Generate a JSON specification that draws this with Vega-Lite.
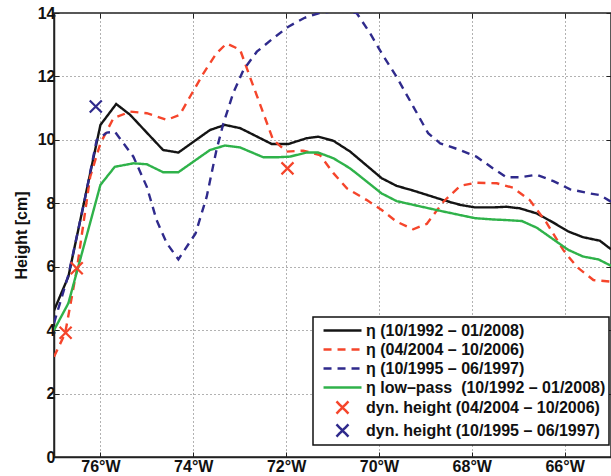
{
  "$schema": "https://vega.github.io/schema/vega-lite/v6.json",
  "width": 557,
  "height": 444,
  "autosize": {"type": "none"},
  "padding": {"left": 54, "top": 13, "right": 0, "bottom": 19},
  "background": "white",
  "resolve": {"axis": {"x": "independent", "y": "independent"}},
  "datasets": {
    "lines": [
      {"s": "A", "lon": -77.0, "h": 4.62}, {"s": "A", "lon": -76.69, "h": 5.69}, {"s": "A", "lon": -76.0, "h": 10.47},
      {"s": "A", "lon": -75.66, "h": 11.13}, {"s": "A", "lon": -75.36, "h": 10.79}, {"s": "A", "lon": -74.65, "h": 9.68},
      {"s": "A", "lon": -74.32, "h": 9.6}, {"s": "A", "lon": -73.64, "h": 10.31}, {"s": "A", "lon": -73.32, "h": 10.47},
      {"s": "A", "lon": -72.99, "h": 10.37}, {"s": "A", "lon": -72.31, "h": 9.87}, {"s": "A", "lon": -71.95, "h": 9.87},
      {"s": "A", "lon": -71.56, "h": 10.05}, {"s": "A", "lon": -71.31, "h": 10.1}, {"s": "A", "lon": -70.98, "h": 9.97},
      {"s": "A", "lon": -70.62, "h": 9.63}, {"s": "A", "lon": -69.94, "h": 8.79}, {"s": "A", "lon": -69.62, "h": 8.55},
      {"s": "A", "lon": -69.26, "h": 8.4}, {"s": "A", "lon": -68.61, "h": 8.1}, {"s": "A", "lon": -68.25, "h": 7.95},
      {"s": "A", "lon": -67.93, "h": 7.87}, {"s": "A", "lon": -67.54, "h": 7.87}, {"s": "A", "lon": -67.25, "h": 7.89},
      {"s": "A", "lon": -66.96, "h": 7.84}, {"s": "A", "lon": -66.6, "h": 7.68}, {"s": "A", "lon": -66.24, "h": 7.39},
      {"s": "A", "lon": -65.92, "h": 7.11}, {"s": "A", "lon": -65.6, "h": 6.93}, {"s": "A", "lon": -65.24, "h": 6.82},
      {"s": "A", "lon": -65.0, "h": 6.55},

      {"s": "B", "lon": -77.0, "h": 3.16}, {"s": "B", "lon": -76.76, "h": 3.9}, {"s": "B", "lon": -76.51, "h": 5.9},
      {"s": "B", "lon": -76.22, "h": 8.84}, {"s": "B", "lon": -76.0, "h": 9.89}, {"s": "B", "lon": -75.72, "h": 10.68},
      {"s": "B", "lon": -75.36, "h": 10.89}, {"s": "B", "lon": -75.0, "h": 10.84}, {"s": "B", "lon": -74.57, "h": 10.63},
      {"s": "B", "lon": -74.29, "h": 10.79}, {"s": "B", "lon": -74.07, "h": 11.36}, {"s": "B", "lon": -73.78, "h": 12.1},
      {"s": "B", "lon": -73.5, "h": 12.73}, {"s": "B", "lon": -73.28, "h": 13.04}, {"s": "B", "lon": -72.99, "h": 12.84},
      {"s": "B", "lon": -72.78, "h": 11.99}, {"s": "B", "lon": -72.49, "h": 10.84}, {"s": "B", "lon": -72.28, "h": 10.0},
      {"s": "B", "lon": -71.99, "h": 9.63}, {"s": "B", "lon": -71.63, "h": 9.66}, {"s": "B", "lon": -71.27, "h": 9.52},
      {"s": "B", "lon": -70.98, "h": 8.95}, {"s": "B", "lon": -70.69, "h": 8.47}, {"s": "B", "lon": -70.26, "h": 8.1},
      {"s": "B", "lon": -69.94, "h": 7.79}, {"s": "B", "lon": -69.62, "h": 7.42}, {"s": "B", "lon": -69.26, "h": 7.18},
      {"s": "B", "lon": -68.97, "h": 7.35}, {"s": "B", "lon": -68.61, "h": 8.05}, {"s": "B", "lon": -68.25, "h": 8.55},
      {"s": "B", "lon": -67.9, "h": 8.65}, {"s": "B", "lon": -67.46, "h": 8.63}, {"s": "B", "lon": -67.11, "h": 8.49},
      {"s": "B", "lon": -66.75, "h": 8.1}, {"s": "B", "lon": -66.39, "h": 7.39}, {"s": "B", "lon": -66.03, "h": 6.53},
      {"s": "B", "lon": -65.74, "h": 6.0}, {"s": "B", "lon": -65.38, "h": 5.58}, {"s": "B", "lon": -65.0, "h": 5.53},

      {"s": "C", "lon": -77.0, "h": 4.22}, {"s": "C", "lon": -76.69, "h": 5.74}, {"s": "C", "lon": -76.37, "h": 7.89},
      {"s": "C", "lon": -76.08, "h": 10.0}, {"s": "C", "lon": -75.86, "h": 10.23}, {"s": "C", "lon": -75.69, "h": 10.26},
      {"s": "C", "lon": -75.29, "h": 9.47}, {"s": "C", "lon": -75.0, "h": 8.52}, {"s": "C", "lon": -74.79, "h": 7.47},
      {"s": "C", "lon": -74.57, "h": 6.74}, {"s": "C", "lon": -74.32, "h": 6.23}, {"s": "C", "lon": -73.95, "h": 7.05},
      {"s": "C", "lon": -73.71, "h": 8.21}, {"s": "C", "lon": -73.5, "h": 9.68}, {"s": "C", "lon": -73.35, "h": 10.52},
      {"s": "C", "lon": -73.14, "h": 11.47}, {"s": "C", "lon": -72.92, "h": 12.2}, {"s": "C", "lon": -72.63, "h": 12.78},
      {"s": "C", "lon": -72.28, "h": 13.2}, {"s": "C", "lon": -71.95, "h": 13.57}, {"s": "C", "lon": -71.6, "h": 13.85},
      {"s": "C", "lon": -71.3, "h": 13.99}, {"s": "C", "lon": -71.0, "h": 14.05}, {"s": "C", "lon": -70.7, "h": 14.05},
      {"s": "C", "lon": -70.48, "h": 14.0}, {"s": "C", "lon": -70.19, "h": 13.36}, {"s": "C", "lon": -69.94, "h": 12.73},
      {"s": "C", "lon": -69.62, "h": 11.99}, {"s": "C", "lon": -69.26, "h": 11.05}, {"s": "C", "lon": -68.94, "h": 10.21},
      {"s": "C", "lon": -68.68, "h": 9.89}, {"s": "C", "lon": -68.25, "h": 9.68}, {"s": "C", "lon": -67.9, "h": 9.47},
      {"s": "C", "lon": -67.54, "h": 9.1}, {"s": "C", "lon": -67.25, "h": 8.82}, {"s": "C", "lon": -66.96, "h": 8.82},
      {"s": "C", "lon": -66.6, "h": 8.9}, {"s": "C", "lon": -66.24, "h": 8.7}, {"s": "C", "lon": -65.88, "h": 8.44},
      {"s": "C", "lon": -65.45, "h": 8.31}, {"s": "C", "lon": -65.24, "h": 8.26}, {"s": "C", "lon": -65.0, "h": 8.05},

      {"s": "D", "lon": -77.0, "h": 4.0}, {"s": "D", "lon": -76.69, "h": 4.85}, {"s": "D", "lon": -76.0, "h": 8.58},
      {"s": "D", "lon": -75.69, "h": 9.15}, {"s": "D", "lon": -75.29, "h": 9.26}, {"s": "D", "lon": -75.0, "h": 9.23},
      {"s": "D", "lon": -74.65, "h": 8.98}, {"s": "D", "lon": -74.32, "h": 8.98}, {"s": "D", "lon": -73.64, "h": 9.68},
      {"s": "D", "lon": -73.32, "h": 9.82}, {"s": "D", "lon": -72.99, "h": 9.76}, {"s": "D", "lon": -72.49, "h": 9.45},
      {"s": "D", "lon": -72.2, "h": 9.45}, {"s": "D", "lon": -71.92, "h": 9.47}, {"s": "D", "lon": -71.56, "h": 9.6},
      {"s": "D", "lon": -71.31, "h": 9.6}, {"s": "D", "lon": -70.98, "h": 9.42}, {"s": "D", "lon": -70.62, "h": 9.1},
      {"s": "D", "lon": -69.94, "h": 8.31}, {"s": "D", "lon": -69.62, "h": 8.07}, {"s": "D", "lon": -69.26, "h": 7.95},
      {"s": "D", "lon": -68.61, "h": 7.74}, {"s": "D", "lon": -67.93, "h": 7.53}, {"s": "D", "lon": -67.54, "h": 7.49},
      {"s": "D", "lon": -67.25, "h": 7.47}, {"s": "D", "lon": -66.92, "h": 7.44}, {"s": "D", "lon": -66.6, "h": 7.23},
      {"s": "D", "lon": -66.24, "h": 6.86}, {"s": "D", "lon": -65.92, "h": 6.53}, {"s": "D", "lon": -65.6, "h": 6.32},
      {"s": "D", "lon": -65.27, "h": 6.23}, {"s": "D", "lon": -65.0, "h": 6.03}
    ],
    "points": [
      {"s": "E", "lon": -76.75, "h": 3.92},
      {"s": "E", "lon": -76.51, "h": 5.95},
      {"s": "E", "lon": -71.97, "h": 9.1},
      {"s": "F", "lon": -76.1, "h": 11.05}
    ]
  },
  "layer": [
    {
      "data": {"name": "lines"},
      "mark": {"type": "line", "strokeWidth": 2.4, "clip": true},
      "encoding": {
        "x": {
          "field": "lon", "type": "quantitative",
          "scale": {"domain": [-77, -65], "nice": false, "zero": false},
          "axis": {
            "orient": "bottom", "title": null, "values": [-76, -74, -72, -70, -68, -66],
            "labelExpr": "abs(datum.value) + '°W'"
          }
        },
        "y": {
          "field": "h", "type": "quantitative",
          "scale": {"domain": [0, 14], "nice": false},
          "axis": {"orient": "left", "title": "Height [cm]", "values": [0, 2, 4, 6, 8, 10, 12, 14]}
        },
        "color": {
          "field": "s", "type": "nominal",
          "scale": {"domain": ["A", "B", "C", "D", "E", "F"], "range": ["#141414", "#f5452b", "#2f2a8c", "#2fb24a", "#f5452b", "#2f2a8c"]},
          "legend": {
            "orient": "none", "legendX": 259, "legendY": 304,
            "labelExpr": "datum.value == 'A' ? 'η (10/1992 – 01/2008)' : datum.value == 'B' ? 'η (04/2004 – 10/2006)' : datum.value == 'C' ? 'η (10/1995 – 06/1997)' : datum.value == 'D' ? 'η low–pass \u00a0(10/1992 – 01/2008)' : datum.value == 'E' ? 'dyn. height (04/2004 – 10/2006)' : 'dyn. height (10/1995 – 06/1997)'",
            "encoding": {
              "symbols": {
                "shape": {"value": {"expr": "(datum.value == 'E' || datum.value == 'F') ? 'M1.11,-0.67L2.44,0.67M1.11,0.67L2.44,-0.67' : 'M-0.33,0L3.89,0'"}},
                "strokeDash": {"value": {"expr": "(datum.value == 'B' || datum.value == 'C') ? [8,6] : [1,0]"}}
              }
            }
          }
        },
        "strokeDash": {
          "field": "s", "type": "nominal",
          "scale": {"domain": ["A", "B", "C", "D"], "range": [[1, 0], [8, 6], [8, 6], [1, 0]]},
          "legend": null
        }
      }
    },
    {
      "data": {"name": "points"},
      "mark": {"type": "point", "shape": "M-1,-1L1,1M-1,1L1,-1", "size": 144, "strokeWidth": 2.2, "filled": false, "opacity": 1},
      "encoding": {
        "x": {
          "field": "lon", "type": "quantitative",
          "scale": {"domain": [-77, -65], "nice": false, "zero": false},
          "axis": {
            "orient": "top", "title": null, "values": [-76, -74, -72, -70, -68, -66],
            "labels": false, "grid": false, "domain": false
          }
        },
        "y": {
          "field": "h", "type": "quantitative",
          "scale": {"domain": [0, 14], "nice": false},
          "axis": {"orient": "right", "title": null, "values": [0, 2, 4, 6, 8, 10, 12, 14], "labels": false, "grid": false, "domain": false}
        },
        "color": {"field": "s", "type": "nominal"}
      }
    }
  ],
  "config": {
    "view": {"stroke": "#222", "strokeWidth": 1.5},
    "font": "Liberation Sans",
    "axis": {
      "labelFont": "Liberation Sans", "labelFontSize": 16, "labelFontWeight": "bold", "labelColor": "#111",
      "titleFont": "Liberation Sans", "titleFontSize": 16, "titleFontWeight": "bold", "titleColor": "#111",
      "grid": true, "gridColor": "#555", "gridDash": [1, 3], "gridWidth": 1, "gridOpacity": 0.9,
      "domainColor": "#222", "domainWidth": 1.5, "tickColor": "#222", "tickSize": -5, "tickWidth": 1
    },
    "axisX": {"labelPadding": 6, "labelFlush": false},
    "axisY": {"labelPadding": 4, "titlePadding": 8},
    "legend": {
      "strokeColor": "#111", "fillColor": "white", "padding": 3, "strokeWidth": 1.5,
      "labelFont": "Liberation Sans", "labelFontSize": 16, "labelFontWeight": "bold", "labelColor": "#111",
      "labelLimit": 400, "labelOffset": 29, "symbolSize": 324, "symbolStrokeWidth": 2.5,
      "rowPadding": 0, "title": null, "symbolFillColor": "transparent"
    }
  }
}
